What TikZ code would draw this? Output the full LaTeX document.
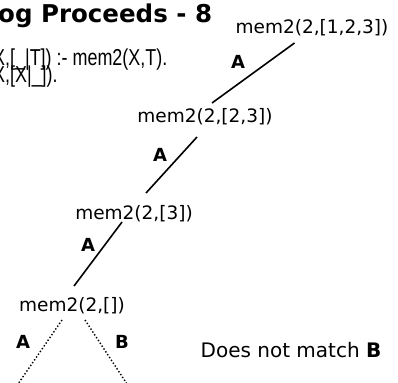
\documentclass[tikz,border=0pt]{standalone}
\usepackage{fontspec}
\setmainfont{DejaVu Sans}
\newfontfamily\narrowfont[FakeStretch=0.78]{Liberation Sans}
\usepackage{tikz}

\begin{document}
\begin{tikzpicture}[x=1pt,y=-1pt]
\useasboundingbox (0,0) rectangle (398,382);
\clip (0,0) rectangle (398,382);
\node[anchor=base west, inner sep=0, font=\fontsize{24.5}{29}\selectfont\bfseries] (title) at (-2,23) {og Proceeds - 8};
 \begin{scope}[every node/.style={anchor=base west, inner sep=0, font=\narrowfont\fontsize{23}{27}\selectfont}]
  \node (cl1) at (-7,66) {X,[\_|T]) :- mem2(X,T).};
  \node (cl2) at (-7,83) {X,[X|\_]).};
 \end{scope}
 \begin{scope}[every node/.style={inner sep=0, font=\fontsize{18.5}{22}\selectfont}]
  \node (m1) at (312,28) {mem2(2,[1,2,3])};
  \node (m2) at (205,117) {mem2(2,[2,3])};
  \node (m3) at (134,214) {mem2(2,[3])};
  \node (m4) at (72,306) {mem2(2,[])};
 \end{scope}
 \begin{scope}[every node/.style={inner sep=0, font=\fontsize{18}{22}\selectfont\bfseries}]
  \node (a1) at (238,62) {A};
  \node (a2) at (160,155) {A};
  \node (a3) at (88,245) {A};
  \node (a4) at (23,342) {A};
  \node (b4) at (122,342) {B};
 \end{scope}
\node[inner sep=0, font=\fontsize{20}{24}\selectfont] (nomatch) at (291,350) {Does not match \textbf{B}};
\coordinate (endA) at (18,384);
\coordinate (endB) at (127,384);
  \path [-, line width=1.6pt] ([shift={(-17.5,15)}]m1.center) edge ([shift={(7,-14)}]m2.center);
  \path [-, line width=1.6pt] ([shift={(-8,20)}]m2.center) edge ([shift={(12,-21)}]m3.center);
  \path [-, line width=1.6pt] ([shift={(-12,8)}]m3.center) edge ([shift={(2,-20)}]m4.center);
  \path [-, line width=1.4pt, dotted] ([shift={(-10,14)}]m4.center) edge (endA);
  \path [-, line width=1.4pt, dotted] ([shift={(13,14)}]m4.center) edge (endB);
\end{tikzpicture}
\end{document}
